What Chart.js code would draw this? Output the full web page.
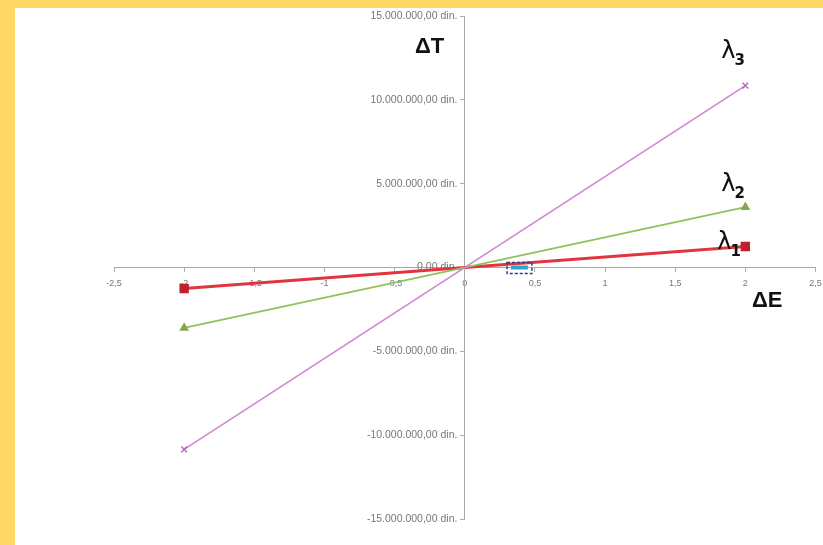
<!DOCTYPE html>
<html>
<head>
<meta charset="utf-8">
<script src="https://cdn.jsdelivr.net/npm/chart.js@4/dist/chart.umd.min.js"></script>
<style>
  html, body { margin: 0; padding: 0; width: 823px; height: 545px; overflow: hidden; background: #ffd866; }
  #sheet { position: absolute; left: 15px; top: 8px; right: 0; bottom: 0; background: #ffffff; }
  #wrap { position: absolute; left: 0; top: 0; width: 823px; height: 545px; }
</style>
</head>
<body>
<div id="sheet"></div>
<div id="wrap"><canvas id="c" width="823" height="545"></canvas></div>
<script>
// Change in earnings (ΔE) and resulting change in tax (ΔT) for three rates
const deltaE = [-2, 2];
const lambda1 = [-1250000, 1250000];
const lambda2 = [-3600000, 3600000];
const lambda3 = [-10850000, 10850000];
// small highlighted segment on the ΔE axis
const markE = [0.33, 0.45];
const markT = [0, 0];

const xTicks = [-2.5, -2, -1.5, -1, -0.5, 0, 0.5, 1, 1.5, 2, 2.5];
const yTicks = [-15000000, -10000000, -5000000, 0, 5000000, 10000000, 15000000];
const seriesNames = ['λ1', 'λ2', 'λ3'];

function pts(xs, ys) { return xs.map((x, i) => ({ x: x, y: ys[i] })); }

// trailing gap keeps right-aligned labels clear of the axis line
function fmtDin(v) {
  const neg = v < 0;
  let s = Math.abs(Math.round(v)).toString();
  s = s.replace(/\B(?=(\d{3})+(?!\d))/g, '.');
  return (neg ? '-' : '') + s + ',00 din.\u2002\u2009';
}
function fmtE(v) { return String(v).replace('.', ','); }

// Axis titles and series labels drawn next to the lines
const annotate = {
  id: 'annotate',
  afterDatasetsDraw(chart) {
    const ctx = chart.ctx;
    const xs = chart.scales.x, ys = chart.scales.y;
    ctx.save();
    ctx.fillStyle = '#111';
    ctx.textBaseline = 'alphabetic';
    ctx.font = 'bold 22px "Liberation Sans", Arial, sans-serif';
    ctx.textAlign = 'left';
    ctx.fillText('ΔT', 415, 53);
    ctx.fillText('ΔE', 752, 307);

    // dashed box round the small highlighted segment
    const x0 = xs.getPixelForValue(markE[0]) - 4;
    const x1 = xs.getPixelForValue(markE[1]) + 4;
    const yc = ys.getPixelForValue(0);
    ctx.strokeStyle = '#1f3f8f';
    ctx.lineWidth = 1.5;
    ctx.setLineDash([3, 2]);
    ctx.strokeRect(x0, yc - 5, x1 - x0, 11);
    ctx.setLineDash([]);

    function lam(label, sub, x, y) {
      ctx.font = '24px "DejaVu Sans", sans-serif';
      ctx.fillText(label, x, y);
      const w = ctx.measureText(label).width;
      ctx.font = 'bold 15px "DejaVu Sans", sans-serif';
      ctx.fillText(sub, x + w - 1, y + 7);
    }
    const last = deltaE.length - 1;
    const px = xs.getPixelForValue(deltaE[last]);
    lam('λ', '3', px - 24, ys.getPixelForValue(lambda3[last]) - 28);
    lam('λ', '2', px - 24, ys.getPixelForValue(lambda2[last]) - 16);
    lam('λ', '1', px - 28, ys.getPixelForValue(lambda1[last]) + 2);
    ctx.restore();
  }
};

new Chart(document.getElementById('c'), {
  type: 'scatter',
  data: {
    datasets: [
      {
        label: 'mark', data: pts(markE, markT), showLine: true,
        borderColor: '#2aa6d6', borderWidth: 4, pointRadius: 0, order: 0
      },
      {
        label: seriesNames[2], data: pts(deltaE, lambda3), showLine: true,
        borderColor: '#cf86cf', borderWidth: 1.6,
        pointStyle: 'crossRot', pointRadius: 4, pointBorderColor: '#b06cb8', pointBorderWidth: 1.5
      },
      {
        label: seriesNames[1], data: pts(deltaE, lambda2), showLine: true,
        borderColor: '#90c25a', borderWidth: 1.6,
        pointStyle: 'triangle', pointRadius: 4, pointBackgroundColor: '#8aa64a', pointBorderColor: '#8aa64a'
      },
      {
        label: seriesNames[0], data: pts(deltaE, lambda1), showLine: true,
        borderColor: '#e2343f', borderWidth: 3,
        pointStyle: 'rect', pointRadius: 4.5, pointBackgroundColor: '#c0202e', pointBorderColor: '#c0202e'
      }
    ]
  },
  options: {
    responsive: false,
    animation: false,
    layout: { padding: { left: 114, right: 7, top: 16, bottom: 26 } },
    plugins: { legend: { display: false }, tooltip: { enabled: false } },
    scales: {
      x: {
        type: 'linear', min: -2.5, max: 2.5, position: { y: 0 },
        afterBuildTicks(axis) { axis.ticks = xTicks.map(v => ({ value: v })); },
        afterFit(axis) { axis.paddingLeft = 0; axis.paddingRight = 0; },
        ticks: {
          callback: v => fmtE(v), color: '#777', padding: 7,
          font: { family: '"Liberation Sans", Arial, sans-serif', size: 9 }, maxRotation: 0, autoSkip: false
        },
        grid: { drawOnChartArea: false, drawTicks: true, tickLength: 4, color: '#b0b0b0' },
        border: { color: '#a8a8a8', width: 1 }
      },
      y: {
        type: 'linear', min: -15000000, max: 15000000, position: { x: 0 },
        afterBuildTicks(axis) { axis.ticks = yTicks.map(v => ({ value: v })); },
        afterFit(axis) { axis.paddingTop = 0; axis.paddingBottom = 0; },
        ticks: {
          callback: v => fmtDin(v), color: '#777', padding: 10,
          font: { family: '"Liberation Sans", Arial, sans-serif', size: 10.5 }, autoSkip: false
        },
        grid: { drawOnChartArea: false, drawTicks: true, tickLength: 4, color: '#b0b0b0' },
        border: { color: '#a8a8a8', width: 1 }
      }
    }
  },
  plugins: [annotate]
});
</script>
</body>
</html>
